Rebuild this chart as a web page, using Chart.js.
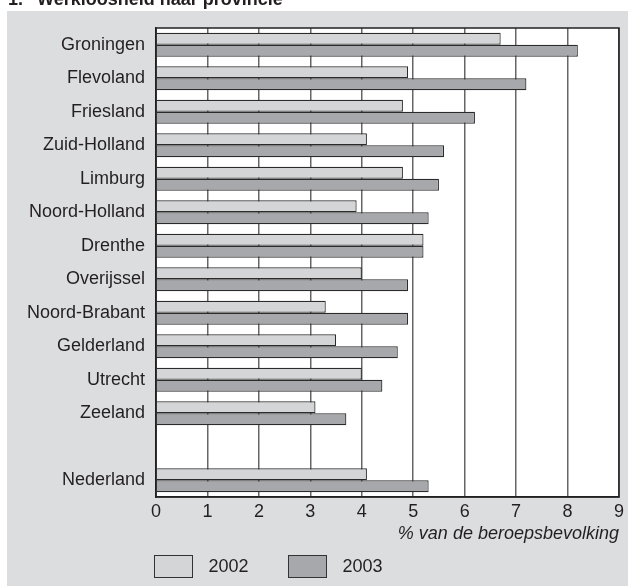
<!DOCTYPE html>
<html>
<head>
<meta charset="utf-8">
<script src="https://cdn.jsdelivr.net/npm/chart.js@4/dist/chart.umd.min.js"></script>
<style>
  html, body { margin: 0; padding: 0; background: #ffffff; }
  #wrap { width: 629px; height: 587px; position: relative; }
</style>
</head>
<body>
<div id="wrap"><canvas id="mainChart" width="629" height="587"></canvas></div>
<script>
// provincies (lege regel voor de scheiding met Nederland)
const provincies = ["Groningen", "Flevoland", "Friesland", "Zuid-Holland", "Limburg", "Noord-Holland",
    "Drenthe", "Overijssel", "Noord-Brabant", "Gelderland", "Utrecht", "Zeeland", "", "Nederland"];
const werkloos2002 = [6.7, 4.9, 4.8, 4.1, 4.8, 3.9, 5.2, 4.0, 3.3, 3.5, 4.0, 3.1, null, 4.1];
const werkloos2003 = [8.2, 7.2, 6.2, 5.6, 5.5, 5.3, 5.2, 4.9, 4.9, 4.7, 4.4, 3.7, null, 5.3];
const xTicks = [0, 1, 2, 3, 4, 5, 6, 7, 8, 9];

const FONT = "'Liberation Sans', Arial, sans-serif";
const TXT = '#231f20';
const kleur2002 = '#d4d5d7';
const kleur2003 = '#a7a8ab';

document.addEventListener('DOMContentLoaded', function () {
    const ctx = document.getElementById('mainChart').getContext('2d');

    new Chart(ctx, {
        type: 'bar',
        data: {
            labels: provincies,
            datasets: [
                { label: '2002', data: werkloos2002, backgroundColor: kleur2002, borderColor: '#2b2b2b', borderWidth: 1.2 },
                { label: '2003', data: werkloos2003, backgroundColor: kleur2003, borderColor: '#2b2b2b', borderWidth: 1.2 }
            ]
        },
        options: {
            indexAxis: 'y',
            responsive: false,
            animation: false,
            datasets: { bar: { categoryPercentage: 0.72, barPercentage: 1.0 } },
            layout: { padding: { top: 28, right: 10, bottom: 42, left: 0 } },
            plugins: {
                legend: { display: false },
                tooltip: { enabled: false }
            },
            scales: {
                x: {
                    min: 0,
                    max: 9,
                    afterBuildTicks: (scale) => { scale.ticks = xTicks.map(v => ({ value: v })); },
                    afterFit: (scale) => { scale.height = 48; },
                    grid: { color: '#666666', lineWidth: 1.5, drawTicks: false },
                    border: { color: '#222222', width: 1.5 },
                    ticks: { color: TXT, padding: 4, font: { family: FONT, size: 18 } },
                    title: {
                        display: true,
                        text: '% van de beroepsbevolking',
                        align: 'end',
                        color: TXT,
                        padding: { top: 0, bottom: 0 },
                        font: { family: FONT, size: 18, style: 'italic' }
                    }
                },
                y: {
                    afterFit: (scale) => { scale.width = 156; },
                    grid: { display: false, drawTicks: false },
                    border: { color: '#222222', width: 1.5 },
                    ticks: { color: TXT, padding: 11, autoSkip: false, font: { family: FONT, size: 18 } }
                }
            }
        },
        plugins: [{
            id: 'paneel',
            beforeDraw: (chart) => {
                const c = chart.ctx;
                const a = chart.chartArea;
                c.save();
                c.fillStyle = '#ffffff';
                c.fillRect(0, 0, chart.width, chart.height);
                c.fillStyle = '#dcdddf';
                c.fillRect(7, 11, chart.width - 8, chart.height - 12);
                c.fillStyle = '#ffffff';
                c.fillRect(a.left, a.top, a.right - a.left, a.bottom - a.top);
                // titel, bovenkant valt buiten beeld
                c.fillStyle = TXT;
                c.font = "bold 18px " + FONT;
                c.textBaseline = 'alphabetic';
                c.fillText('1.', 8, 5);
                c.fillText('Werkloosheid naar provincie', 37, 5);
                c.restore();
            },
            afterDraw: (chart) => {
                const c = chart.ctx;
                const a = chart.chartArea;
                c.save();
                c.strokeStyle = '#222222';
                c.lineWidth = 1.5;
                c.strokeRect(a.left, a.top, a.right - a.left, a.bottom - a.top);

                // legenda
                c.font = "18px " + FONT;
                c.textBaseline = 'middle';
                const items = [[154.5, kleur2002, '2002'], [288.5, kleur2003, '2003']];
                items.forEach(([x, kleur, tekst]) => {
                    c.fillStyle = kleur;
                    c.fillRect(x, 555.5, 38, 22);
                    c.strokeStyle = '#333333';
                    c.lineWidth = 1;
                    c.strokeRect(x, 555.5, 38, 22);
                    c.fillStyle = TXT;
                    c.fillText(tekst, x + 54, 567);
                });
                c.restore();
            }
        }]
    });
});
</script>
</body>
</html>
